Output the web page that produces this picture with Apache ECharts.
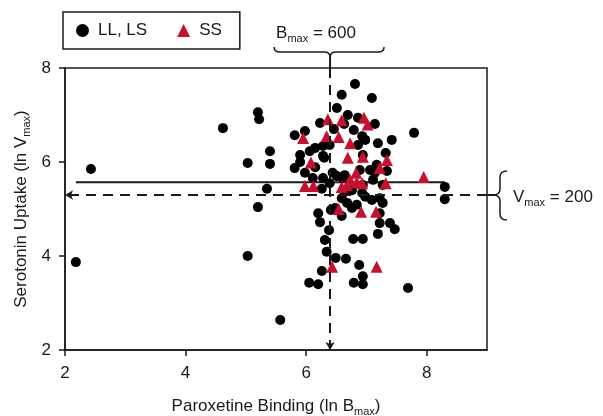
<!DOCTYPE html>
<html>
<head>
<meta charset="utf-8">
<script src="https://cdn.jsdelivr.net/npm/echarts@6/dist/echarts.min.js"></script>
<style>html,body{margin:0;padding:0;background:#fff;}#c{width:603px;height:416px;}</style>
</head>
<body>
<div id="c"></div>
<script>
// LL, LS genotype points: [ln Bmax, ln Vmax]
const llLs = [[2.18,3.87],[2.43,5.85],[4.62,6.72],[5.20,7.06],[5.22,6.91],[5.03,5.98],[5.40,6.23],[5.40,5.96],[5.35,5.43],[5.20,5.04],[5.03,4.00],[5.57,2.64],
[6.81,7.66],[6.59,7.43],[7.09,7.36],[6.51,7.15],[6.69,7.00],[6.86,6.94],[6.23,6.83],[7.14,6.81],[6.63,6.81],[6.46,6.70],[6.79,6.68],[5.98,6.66],[5.81,6.57],[6.93,6.55],[6.98,6.47],[7.19,6.40],[7.42,6.47],[7.79,6.62],[6.86,6.36],[6.15,6.30],[6.28,6.34],[6.39,6.36],[5.90,6.15],[6.06,6.23],[6.28,6.13],[6.94,6.15],[7.32,6.19],[5.90,6.00],[5.81,5.87],[6.15,5.89],[5.98,5.77],[6.30,6.09],[6.44,5.77],[6.11,5.66],[6.28,5.66],[6.89,5.83],[7.06,5.83],[7.17,5.94],[7.34,5.81],[7.14,5.77],[7.11,5.62],[6.94,5.51],[6.51,5.70],[6.61,5.66],[6.64,5.72],[7.27,5.51],[6.26,5.43],[6.64,5.36],[6.59,5.23],[6.68,5.13],[6.76,5.02],[6.98,5.26],[7.09,5.19],[7.22,5.23],[7.27,5.13],[7.22,4.91],[6.93,5.34],[6.20,4.91],[6.41,4.98],[6.59,4.85],[6.48,5.02],[6.23,4.72],[6.38,4.55],[7.22,4.70],[7.39,4.70],[7.47,4.57],[7.19,4.47],[6.31,4.34],[6.78,4.36],[6.94,4.36],[6.34,4.09],[6.49,3.96],[6.66,3.94],[6.88,3.81],[6.26,3.68],[6.94,3.57],[6.05,3.43],[6.20,3.40],[6.79,3.43],[6.94,3.40],[7.69,3.32],[8.30,5.47],[8.30,5.21],[6.39,5.55],[6.76,5.40],[6.84,5.09]];
// SS genotype points
const ss = [[6.36,6.91],[6.59,6.89],[6.96,6.94],[7.02,6.80],[5.95,6.51],[6.34,6.55],[6.54,6.53],[6.73,6.40],[6.69,6.09],[6.94,6.11],[6.08,5.99],[7.34,6.04],[7.22,5.87],[6.83,5.77],[7.95,5.68],[5.98,5.49],[6.12,5.49],[6.59,5.47],[6.73,5.62],[6.84,5.57],[6.93,5.55],[7.32,5.55],[6.68,5.51],[6.54,5.00],[6.91,4.94],[7.16,4.94],[6.43,3.77],[7.17,3.77]];
// reference values
const bmaxLn = Math.log(600);   // Bmax = 600
const vmaxLn = Math.log(200);   // Vmax = 200
const fitLine = [[2.18,5.57],[8.30,5.57]];
const xRange = [2, 9], yRange = [2, 8];
const bmaxLabel = ['B', 'max', ' = 600'];
const vmaxLabel = ['V', 'max', ' = 200'];

(function () {
const FONT = 'Liberation Sans, Arial, Helvetica, sans-serif';
const INK = '#1a1a1a';
const RED = '#C8102E';
const chart = echarts.init(document.getElementById('c'), null, {renderer: 'canvas'});
const subRich = {
  a: {fontSize: 17, fontFamily: FONT, color: INK, lineHeight: 22},
  s: {fontSize: 11, fontFamily: FONT, color: INK, lineHeight: 22, verticalAlign: 'bottom', padding: [9, 0, 0, 0]}
};
const dashed = {type: [10, 7], width: 2, color: INK};

chart.setOption({
  animation: false,
  grid: {left: 65, top: 68, right: 116, bottom: 66, containLabel: false, outerBoundsMode: 'none',
         show: true, borderColor: INK, borderWidth: 1.5, backgroundColor: 'transparent'},
  legend: {
    left: 63, top: 12, orient: 'horizontal',
    data: ['LL, LS', 'SS'],
    borderColor: INK, borderWidth: 1.5, borderRadius: 0,
    padding: [10, 18, 10, 13], itemGap: 30, itemWidth: 13, itemHeight: 13,
    textStyle: {fontSize: 17, fontFamily: FONT, color: INK, padding: [0, 0, 0, 4]}
  },
  xAxis: {
    type: 'value', min: xRange[0], max: xRange[1], interval: 2,
    name: '{a|Paroxetine Binding (ln B}{s|max}{a|)}', nameLocation: 'middle', nameGap: 45,
    nameTextStyle: {rich: subRich},
    axisLine: {show: true, lineStyle: {color: INK, width: 1.5}},
    axisTick: {show: true, inside: false, length: 6, lineStyle: {color: INK, width: 1.5}},
    axisLabel: {fontSize: 17, fontFamily: FONT, color: INK, margin: 15, showMaxLabel: false},
    splitLine: {show: false}
  },
  yAxis: {
    type: 'value', min: yRange[0], max: yRange[1], interval: 2,
    name: '{a|Serotonin Uptake (ln V}{s|max}{a|)}', nameLocation: 'middle', nameGap: 33, nameRotate: 90,
    nameMoveOverlap: false,
    nameTextStyle: {rich: subRich},
    axisLine: {show: true, lineStyle: {color: INK, width: 1.5}},
    axisTick: {show: true, inside: false, length: 6, lineStyle: {color: INK, width: 1.5}},
    axisLabel: {fontSize: 17, fontFamily: FONT, color: INK, margin: 14},
    splitLine: {show: false}
  },
  series: [
    {
      name: 'fit', type: 'line', data: fitLine, symbol: 'none', z: 1,
      lineStyle: {color: INK, width: 2}, silent: true,
      markLine: {
        silent: true, symbol: ['none', 'arrow'], symbolSize: [7, 8],
        label: {show: false}, lineStyle: dashed,
        data: [
          [{coord: [bmaxLn, yRange[1]]}, {coord: [bmaxLn, yRange[0]]}],
          [{coord: [xRange[1], vmaxLn]}, {coord: [xRange[0], vmaxLn]}]
        ]
      }
    },
    {name: 'LL, LS', type: 'scatter', data: llLs, symbol: 'circle', symbolSize: 10, itemStyle: {color: '#000', opacity: 1}, z: 3},
    {name: 'SS', type: 'scatter', data: ss, symbol: 'triangle', symbolSize: 12, itemStyle: {color: RED, opacity: 1}, z: 4}
  ]
});

// annotations (braces + labels) positioned from the axes
const tp = chart.convertToPixel({gridIndex: 0}, [bmaxLn, yRange[1]]);
const rp = chart.convertToPixel({gridIndex: 0}, [xRange[1], vmaxLn]);
const cx = tp[0], ty = tp[1];
const x0 = cx - 56, x1 = cx + 54, y0 = ty - 21, y1 = ty - 16, y2 = ty - 11, r = 6;
const rx = rp[0], cy = rp[1];
const ex = rx + 20, bx = rx + 13, tip = rx + 6, yT = cy - 24, yB = cy + 25;
const st = {fill: 'none', stroke: INK, lineWidth: 1.5};
const q = (a, b, c, d, e, f) => ({type: 'bezierCurve', shape: {x1: a, y1: b, cpx1: c, cpy1: d, x2: e, y2: f}, style: st, silent: true});
const ln = (a, b, c, d, w) => ({type: 'line', shape: {x1: a, y1: b, x2: c, y2: d}, style: {stroke: INK, lineWidth: w || 1.5}, silent: true});
const richLbl = {
  a: {fontSize: 17, fontFamily: FONT, fill: INK, lineHeight: 22},
  s: {fontSize: 11, fontFamily: FONT, fill: INK, lineHeight: 22, verticalAlign: 'bottom', padding: [9, 0, 0, 0]}
};
chart.setOption({
  graphic: [
    // top brace
    q(x0, y0, x0, y1, x0 + r, y1), ln(x0 + r, y1, cx - r, y1), q(cx - r, y1, cx, y1, cx, y2),
    q(cx, y2, cx, y1, cx + r, y1), ln(cx + r, y1, x1 - r, y1), q(x1 - r, y1, x1, y1, x1, y0),
    ln(cx, y2, cx, ty, 2),
    {type: 'text', x: x0 + 2, y: ty - 35, style: {text: `{a|${bmaxLabel[0]}}{s|${bmaxLabel[1]}}{a|${bmaxLabel[2]}}`, rich: richLbl, verticalAlign: 'middle', align: 'left'}, silent: true},
    // right brace
    q(ex, yT, bx, yT, bx, yT + r), ln(bx, yT + r, bx, cy - r), q(bx, cy - r, bx, cy, tip, cy),
    q(tip, cy, bx, cy, bx, cy + r), ln(bx, cy + r, bx, yB - r), q(bx, yB - r, bx, yB, ex, yB),
    ln(rx, cy, tip, cy, 2),
    {type: 'text', x: rx + 26, y: cy + 2, style: {text: `{a|${vmaxLabel[0]}}{s|${vmaxLabel[1]}}{a|${vmaxLabel[2]}}`, rich: richLbl, verticalAlign: 'middle', align: 'left'}, silent: true}
  ]
});
})();
</script>
</body>
</html>
